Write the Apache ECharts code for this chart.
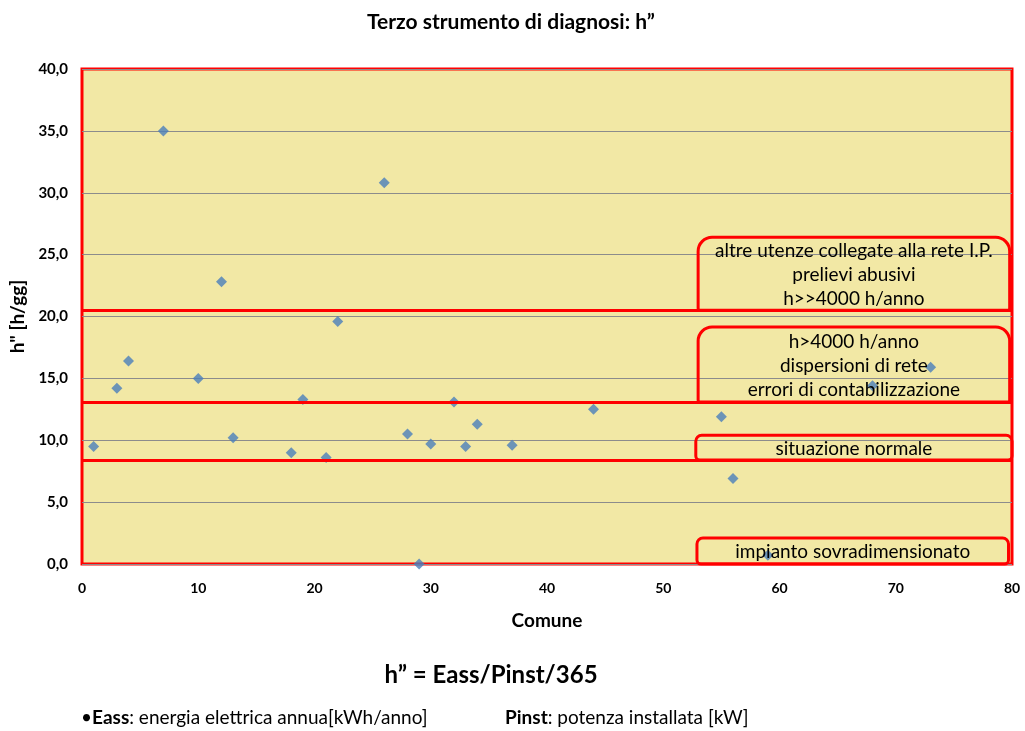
<!DOCTYPE html>
<html lang="it">
<head>
    <meta charset="UTF-8" />
    <title>Terzo strumento di diagnosi</title>
    <script src="https://cdn.jsdelivr.net/npm/echarts@6/dist/echarts.min.js"></script>
    <style>
        body { margin: 0; background: #fff; }
        #chart { width: 1025px; height: 731px; }
    </style>
</head>
<body>
    <div id="chart"></div>
    <script>
        // comune (asse x) e h'' [h/gg] (asse y)
        var comune = [1, 3, 4, 7, 10, 12, 13, 18, 19, 21, 22, 26, 28, 29, 30, 32, 33, 34, 37, 44, 55, 56, 59, 68, 73];
        var hValori = [9.5, 14.2, 16.4, 35.0, 15.0, 22.8, 10.2, 9.0, 13.3, 8.6, 19.6, 30.8, 10.5, 0.0, 9.7, 13.1, 9.5, 11.3, 9.6, 12.5, 11.9, 6.9, 0.7, 14.4, 15.9];
        // soglie delle fasce (linee rosse)
        var soglie = [20.5, 13.1, 8.4];
        // riquadri di commento: [x0, x1, yTop, yBottom, righe]
        var riquadri = [
            { x0: 53.0, x1: 79.8, y0: 26.4, y1: 20.5, righe: ["altre utenze collegate alla rete I.P.", "prelievi abusivi", "h>>4000 h/anno"] },
            { x0: 53.0, x1: 79.8, y0: 19.15, y1: 13.1, righe: ["h>4000 h/anno", "dispersioni di rete", "errori di contabilizzazione"] },
            { x0: 52.8, x1: 80.0, y0: 10.4, y1: 8.4, righe: ["situazione normale"] },
            { x0: 52.9, x1: 79.7, y0: 2.1, y1: 0.0, righe: ["impianto sovradimensionato"] }
        ];

        var font = "Lato, 'Open Sans', sans-serif";
        var chart = echarts.init(document.getElementById("chart"));

        var data = comune.map(function (c, i) { return [c, hValori[i]]; });

        var option = {
            animation: false,
            textStyle: { fontFamily: font },
            title: {
                text: "Terzo strumento di diagnosi: h\u201d",
                left: 362,
                top: 7,
                textStyle: { fontSize: 21, fontWeight: "bold", color: "#000", fontFamily: font }
            },
            grid: {
                left: 82, right: 13, top: 69, bottom: 167,
                show: true,
                backgroundColor: "#F2E8A5",
                borderColor: "#FF0000",
                borderWidth: 3
            },
            xAxis: {
                type: "value",
                min: 0, max: 80, interval: 10,
                name: "Comune",
                nameLocation: "middle",
                nameGap: 47,
                nameTextStyle: { fontSize: 19, fontWeight: "bold", color: "#000" },
                axisLine: { show: false },
                axisTick: { show: false },
                splitLine: { show: false },
                axisLabel: { fontSize: 14, fontWeight: "bold", color: "#000", margin: 17 }
            },
            yAxis: {
                type: "value",
                min: 0, max: 40, interval: 5,
                name: "h\" [h/gg]",
                nameLocation: "middle",
                nameGap: 54,
                nameTextStyle: { fontSize: 19, fontWeight: "bold", color: "#000" },
                axisLine: { show: false },
                axisTick: { show: false },
                splitLine: { lineStyle: { color: "#8c8c8c", width: 1 } },
                axisLabel: {
                    fontSize: 15, fontWeight: "bold", color: "#000", margin: 14,
                    formatter: function (v) { return v.toFixed(1).replace(".", ","); }
                }
            },
            series: [{
                type: "scatter",
                data: data,
                symbol: "diamond",
                symbolSize: 11,
                clip: false,
                itemStyle: { color: "#4A7EBB" },
                markLine: {
                    silent: true,
                    symbol: "none",
                    label: { show: false },
                    lineStyle: { color: "#FF0000", width: 3, type: "solid" },
                    data: soglie.map(function (s) { return { yAxis: s }; })
                },
                z: 3
            }],
            graphic: []
        };
        chart.setOption(option);

        // riquadri e testi posizionati dalle coordinate dei dati
        var elementi = [];
        riquadri.forEach(function (r) {
            var p0 = chart.convertToPixel({ gridIndex: 0 }, [r.x0, r.y0]);
            var p1 = chart.convertToPixel({ gridIndex: 0 }, [r.x1, r.y1]);
            var h = p1[1] - p0[1];
            var raggio = h > 40 ? [14, 14, 2, 2] : [6, 6, 4, 4];
            elementi.push({
                type: "rect",
                shape: { x: p0[0], y: p0[1], width: p1[0] - p0[0], height: h, r: raggio },
                style: { fill: "rgba(0,0,0,0)", stroke: "#FF0000", lineWidth: 3 },
                z: 10
            });
            var cx = (p0[0] + p1[0]) / 2;
            var n = r.righe.length;
            var lh = 24;
            var start = (p0[1] + p1[1]) / 2 - (n - 1) * lh / 2;
            r.righe.forEach(function (t, j) {
                elementi.push({
                    type: "text",
                    x: cx,
                    y: start + j * lh + 1,
                    style: {
                        text: t, align: "center", verticalAlign: "middle",
                        font: "19px " + font, fill: "#000"
                    },
                    z: 11
                });
            });
        });

        // formula e legenda sotto il grafico
        elementi.push({
            type: "text", x: 491, y: 675,
            style: { text: "h\u201d = Eass/Pinst/365", align: "center", verticalAlign: "middle", font: "bold 24px " + font, fill: "#000" }
        });
        elementi.push({
            type: "text", x: 81, y: 718,
            style: {
                text: "\u2022{b|Eass}: energia elettrica annua[kWh/anno]",
                verticalAlign: "middle", font: "19px " + font, fill: "#000",
                rich: { b: { fontWeight: "bold", fontSize: 19, fontFamily: font } }
            }
        });
        elementi.push({
            type: "text", x: 505, y: 718,
            style: {
                text: "{b|Pinst}: potenza installata [kW]",
                verticalAlign: "middle", font: "19px " + font, fill: "#000",
                rich: { b: { fontWeight: "bold", fontSize: 19, fontFamily: font } }
            }
        });

        chart.setOption({ graphic: elementi });
    </script>
</body>
</html>
